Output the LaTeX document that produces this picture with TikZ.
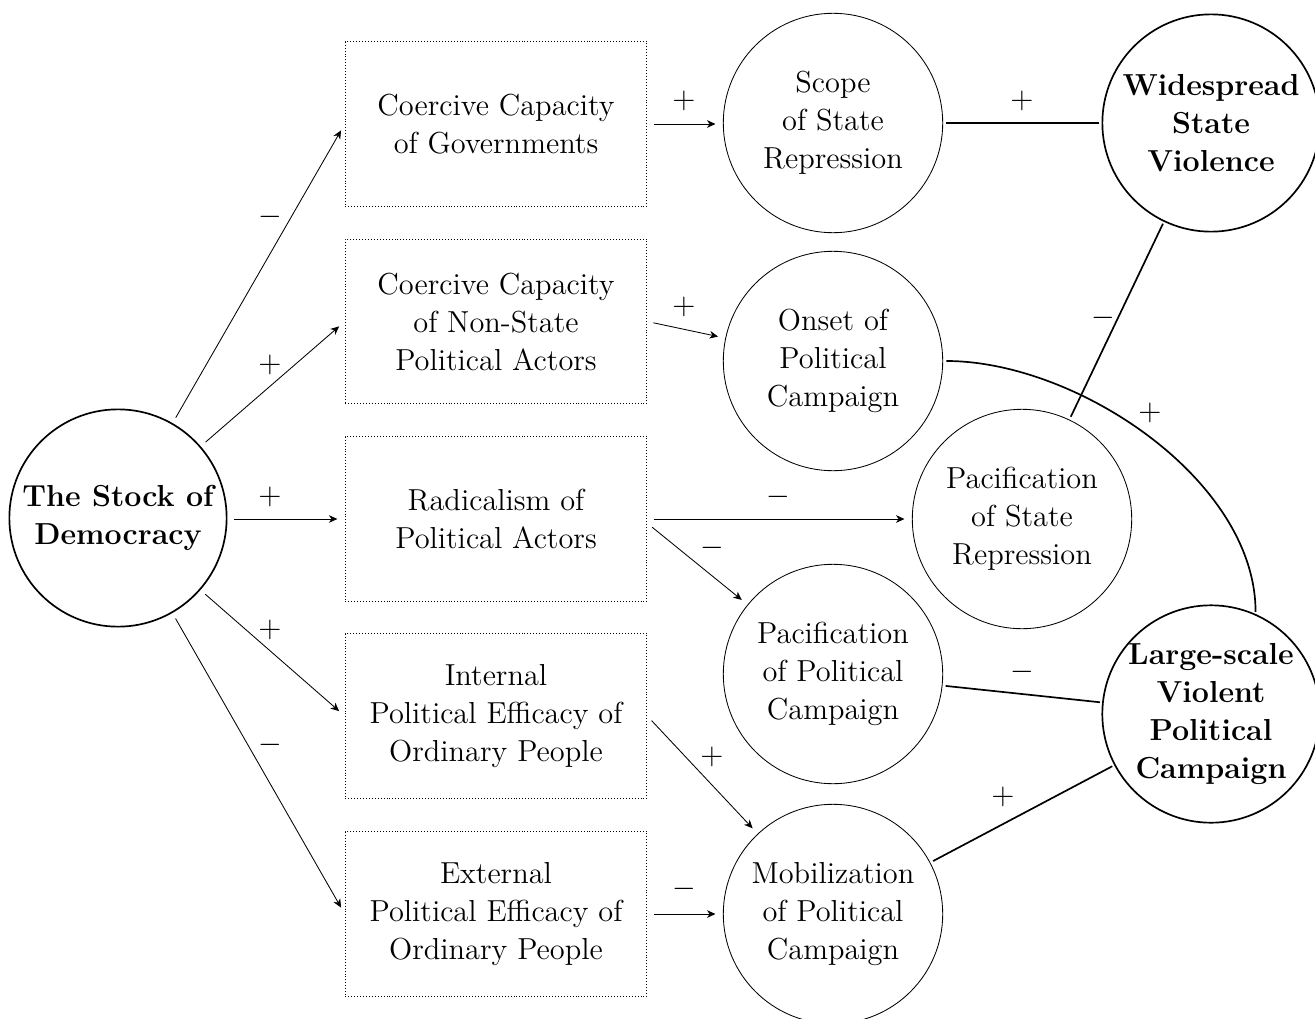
\documentclass[tikz,border=0pt]{standalone}
\usetikzlibrary{arrows.meta}
\begin{document}
\begin{tikzpicture}[x=0.474pt,y=-0.474pt,
  box/.style={draw, densely dotted, minimum width=143pt, minimum height=78pt, align=center, font=\Large, inner sep=0pt},
  circ/.style={draw, circle, minimum size=104pt, inner sep=0pt, align=center, font=\Large},
  bigc/.style={draw, circle, thick, minimum size=103pt, inner sep=0pt, align=center, font=\Large\bfseries},
  arr/.style={-{Stealth[length=4pt,width=3.6pt,inset=1.2pt]}, shorten <=3pt, shorten >=3.5pt},
  link/.style={thick, shorten <=1.5pt, shorten >=1pt},
  lbl/.style={font=\Large, inner sep=0pt}]
\useasboundingbox (0,0) rectangle (1315,1019);

\node[bigc] (stock) at (118,518) {The Stock of\\Democracy};

\node[box] (gov) at (496,124) {Coercive Capacity\\of Governments};
\node[box] (ns)  at (496,321.5) {Coercive Capacity\\of Non-State\\Political Actors};
\node[box] (rad) at (496,519) {Radicalism of\\Political Actors};
\node[box] (int) at (496,716) {Internal\\Political Efficacy of\\Ordinary People};
\node[box] (ext) at (496,914) {External\\Political Efficacy of\\Ordinary People};

\node[circ] (scope) at (833,123) {Scope\\of State\\Repression};
\node[circ] (onset) at (833,361) {Onset of\\Political\\Campaign};
\node[circ] (pacs) at (1022,519) {Pacification\\of State\\Repression};
\node[circ] (pacpc) at (833,674) {Pacification\\of Political\\Campaign};
\node[circ] (mob) at (833,914) {Mobilization\\of Political\\Campaign};

\node[bigc] (wide) at (1211,123) {Widespread\\State\\Violence};
\node[bigc] (large) at (1211,714) {Large-scale\\Violent\\Political\\Campaign};

% arrows
\draw[arr] (stock) -- (gov.west);
\draw[arr] (stock) -- (ns.west);
\draw[arr] (stock.east |- rad.west) -- (rad.west);
\draw[arr] (stock) -- (int.west);
\draw[arr] (stock) -- (ext.west);
\draw[arr] (gov.east) -- (scope.west |- gov.east);
\draw[arr] (ns.east) -- (onset);
\draw[arr] (rad.east) -- (pacs);
\draw[arr] ([yshift=-2pt]rad.east) -- (pacpc);
\draw[arr] (int.east) -- (mob);
\draw[arr] (ext.east) -- (mob);

% thick links
\draw[link] (scope) -- (wide);
\draw[link] (pacs) -- (wide);
\draw[link] (onset.east) to[out=0,in=90,looseness=0.85] (large.66);
\draw[link] (pacpc) -- (large);
\draw[link] (mob) -- (large);

% labels
\node[lbl] (l1) at (270,217) {$-$};
\node[lbl] (l2) at (270,365) {$+$};
\node[lbl] (l3) at (270,497) {$+$};
\node[lbl] (l4) at (270,630) {$+$};
\node[lbl] (l5) at (270,745) {$-$};
\node[lbl] (l6) at (684,101) {$+$};
\node[lbl] (l7) at (684,307) {$+$};
\node[lbl] (l8) at (778,497) {$-$};
\node[lbl] (l9) at (712,548) {$-$};
\node[lbl] (l10) at (712,757) {$+$};
\node[lbl] (l11) at (684,889) {$-$};
\node[lbl] (l12) at (1022,101) {$+$};
\node[lbl] (l13) at (1103,318) {$-$};
\node[lbl] (l14) at (1150,413) {$+$};
\node[lbl] (l15) at (1022,672) {$-$};
\node[lbl] (l16) at (1003,797) {$+$};
\end{tikzpicture}
\end{document}
